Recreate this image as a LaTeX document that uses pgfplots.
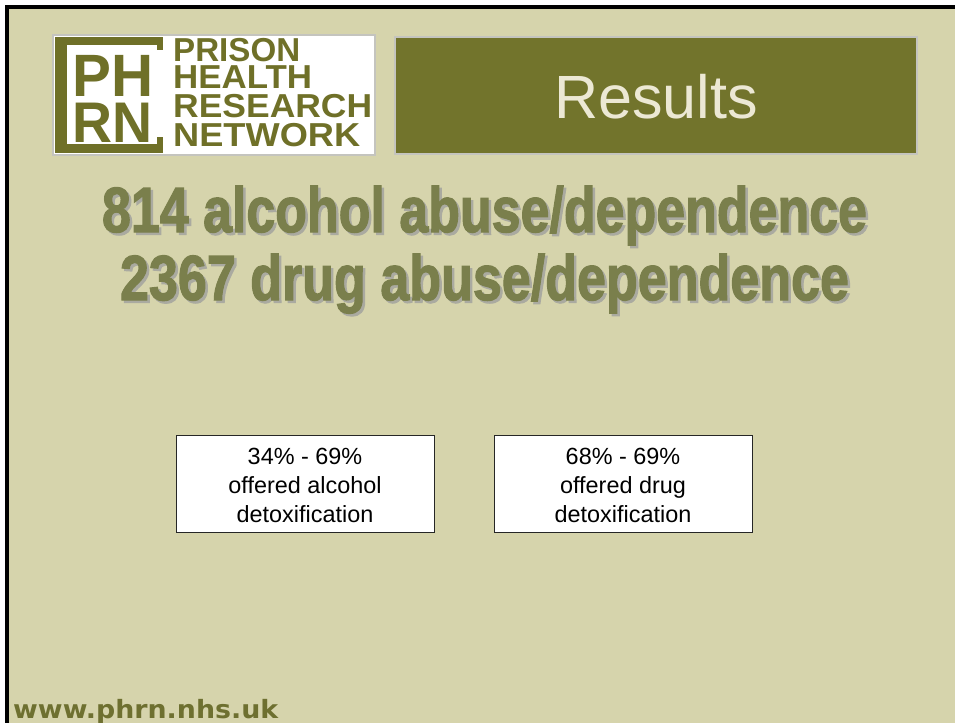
\documentclass[border=0pt]{standalone}
\usepackage{pgfplots}
\pgfplotsset{compat=1.18}
\usepackage{graphicx}
\usepackage{fontspec}
\setmainfont{Liberation Sans}
\newfontfamily\headfont[FakeBold=2]{Liberation Sans}
\newfontfamily\urlfont{DejaVu Sans}
\definecolor{bgc}{RGB}{214,212,172}
\definecolor{oliveres}{RGB}{114,116,44}
\definecolor{logoolive}{RGB}{111,112,40}
\definecolor{headc}{RGB}{122,127,76}
\definecolor{shadowc}{RGB}{170,170,160}
\definecolor{restext}{RGB}{236,232,212}
\definecolor{urlc}{RGB}{110,112,48}
\definecolor{lgray}{RGB}{196,196,190}
\begin{document}
\begin{tikzpicture}
\begin{axis}[
  width=955bp, height=723bp, scale only axis,
  xmin=0, xmax=955, ymin=0, ymax=723, y dir=reverse,
  hide axis, clip=false,
]
% page
\fill[white] (axis cs:-10,-10) rectangle (axis cs:965,733);
\fill[bgc] (axis cs:5,5) rectangle (axis cs:965,733);
\fill[black] (axis cs:5,5) rectangle (axis cs:965,9);
\fill[black] (axis cs:5,5) rectangle (axis cs:9,733);
% logo
\filldraw[fill=white, draw=lgray, line width=2bp] (axis cs:53,35) rectangle (axis cs:375,155);
\fill[logoolive] (axis cs:55,37) rectangle (axis cs:163,45);
\fill[logoolive] (axis cs:55,37) rectangle (axis cs:67,153);
\fill[logoolive] (axis cs:55,144) rectangle (axis cs:163,153);
\fill[logoolive] (axis cs:157,37) rectangle (axis cs:163,50);
\fill[logoolive] (axis cs:157,137) rectangle (axis cs:163,153);
\node[anchor=base west, inner sep=0, text=logoolive] at (axis cs:72,97) {\resizebox{81bp}{\height}{\fontsize{60}{66}\selectfont\bfseries PH}};
\node[anchor=base west, inner sep=0, text=logoolive] at (axis cs:72,143) {\resizebox{80bp}{\height}{\fontsize{57.5}{66}\selectfont\bfseries RN}};
\node[anchor=base west, inner sep=0, text=logoolive] at (axis cs:173,62) {\resizebox{127bp}{\height}{\fontsize{33.3}{37}\selectfont\bfseries PRISON}};
\node[anchor=base west, inner sep=0, text=logoolive] at (axis cs:173,89) {\resizebox{139bp}{\height}{\fontsize{33.3}{37}\selectfont\bfseries HEALTH}};
\node[anchor=base west, inner sep=0, text=logoolive] at (axis cs:173,118) {\resizebox{199bp}{\height}{\fontsize{33.3}{37}\selectfont\bfseries RESEARCH}};
\node[anchor=base west, inner sep=0, text=logoolive] at (axis cs:173,147) {\resizebox{187bp}{\height}{\fontsize{33.3}{37}\selectfont\bfseries NETWORK}};
% Results box
\filldraw[fill=oliveres, draw=lgray, line width=2bp] (axis cs:395,37) rectangle (axis cs:917,154);
\node[anchor=base, inner sep=0, text=restext] at (axis cs:656,119) {\fontsize{61.3}{66}\selectfont Results};
% headline with shadow
\node[anchor=base, inner sep=0, text=shadowc] at (axis cs:487,234.5) {\resizebox{765bp}{\height}{\headfont\fontsize{64}{74}\selectfont\bfseries 814 alcohol abuse/dependence}};
\node[anchor=base, inner sep=0, text=headc] at (axis cs:484.5,232) {\resizebox{765bp}{\height}{\headfont\fontsize{64}{74}\selectfont\bfseries 814 alcohol abuse/dependence}};
\node[anchor=base, inner sep=0, text=shadowc] at (axis cs:487,302.5) {\resizebox{729bp}{\height}{\headfont\fontsize{64}{74}\selectfont\bfseries 2367 drug abuse/dependence}};
\node[anchor=base, inner sep=0, text=headc] at (axis cs:484.5,300) {\resizebox{729bp}{\height}{\headfont\fontsize{64}{74}\selectfont\bfseries 2367 drug abuse/dependence}};
% boxes
\filldraw[fill=white, draw=black!85, line width=1bp] (axis cs:176,435) rectangle (axis cs:434,532);
\filldraw[fill=white, draw=black!85, line width=1bp] (axis cs:494,435) rectangle (axis cs:752,532);
\node[anchor=base, inner sep=0] at (axis cs:305,464) {\fontsize{23.5}{27}\selectfont 34\% - 69\%};
\node[anchor=base, inner sep=0] at (axis cs:305,493) {\fontsize{23.5}{27}\selectfont offered alcohol};
\node[anchor=base, inner sep=0] at (axis cs:305,522) {\fontsize{23.5}{27}\selectfont detoxification};
\node[anchor=base, inner sep=0] at (axis cs:623,464) {\fontsize{23.5}{27}\selectfont 68\% - 69\%};
\node[anchor=base, inner sep=0] at (axis cs:623,493) {\fontsize{23.5}{27}\selectfont offered drug};
\node[anchor=base, inner sep=0] at (axis cs:623,522) {\fontsize{23.5}{27}\selectfont detoxification};
% url
\node[anchor=base west, inner sep=0, text=urlc] at (axis cs:13,718) {\resizebox{265bp}{\height}{\urlfont\fontsize{25.3}{29}\selectfont\bfseries www.phrn.nhs.uk}};
\end{axis}
\pgfresetboundingbox
\useasboundingbox (0,0) rectangle (955bp,723bp);
\end{tikzpicture}
\end{document}
